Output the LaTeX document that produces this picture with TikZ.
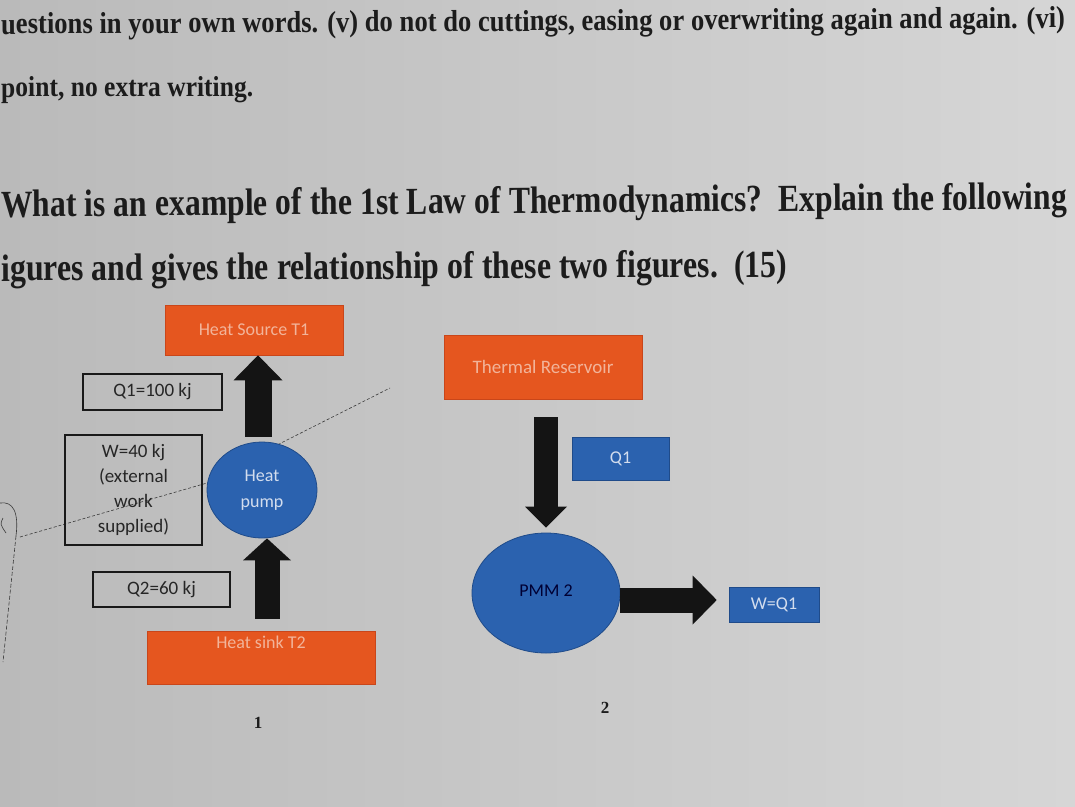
\documentclass[tikz,border=0pt]{standalone}
\usepackage{graphicx}
\usepackage{fontspec}
\setmainfont{Liberation Serif}
\newfontfamily\carl{Carlito}
\usetikzlibrary{arrows.meta,shapes.geometric,calc}
\definecolor{bgL}{HTML}{BABABA}
\definecolor{bgR}{HTML}{D6D6D6}
\definecolor{ink}{HTML}{1C1C1C}
\definecolor{orng}{HTML}{E5561F}
\definecolor{orngD}{HTML}{C9461A}
\definecolor{orngT}{HTML}{F2B49A}
\definecolor{blu}{HTML}{2B62AF}
\definecolor{bluD}{HTML}{1F4B8A}
\definecolor{bluT}{HTML}{D3DDEE}
\definecolor{arrowc}{HTML}{141414}
\definecolor{stray}{HTML}{3A3A3A}
\begin{document}
\begin{tikzpicture}[x=1pt,y=-1pt,
  qtext/.style={inner sep=0pt,anchor=base west,text=ink},
  orangebox/.style={rectangle,fill=orng,draw=orngD,line width=0.6pt,text=orngT,font=\carl\fontsize{18}{20}\selectfont,inner sep=0pt},
  framebox/.style={rectangle,draw=black!90,line width=2pt,text=black!85,align=center,inner sep=0pt,font=\carl\fontsize{19}{25}\selectfont},
  bluebox/.style={rectangle,fill=blu,draw=bluD,line width=0.6pt,text=bluT,inner sep=0pt,font=\carl\fontsize{18}{20}\selectfont},
  bluecirc/.style={ellipse,fill=blu,draw=bluD,line width=0.8pt,text=bluT,inner sep=0pt,align=center,font=\carl\fontsize{18}{26}\selectfont},
  blk/.style={draw=arrowc,line cap=butt},
  straystyle/.style={draw=stray,line width=0.6pt},
  figno/.style={font=\bfseries\fontsize{17}{17}\selectfont,text=ink,inner sep=0pt}]
\useasboundingbox (0,0) rectangle (1075,806);
\clip (0,0) rectangle (1075,806);
\shade[left color=bgL,right color=bgR] (0,0) rectangle (1075,806);

% question text
\node[qtext,rotate=0.33] (t1) at (1,34) {\resizebox{1064pt}{21pt}{\bfseries uestions in your own words. (v) do not do cuttings, easing or overwriting again and again. (vi)}};
\node[qtext,rotate=0.2] (t2) at (1,97) {\resizebox{252pt}{20pt}{\bfseries point, no extra writing.}};
\node[qtext,rotate=0.42] (t3) at (1,217) {\resizebox{1066pt}{27pt}{\bfseries What is an example of the 1st Law of Thermodynamics?\ \ Explain the following}};
\node[qtext,rotate=0.3] (t4) at (1,281) {\resizebox{786pt}{27pt}{\bfseries igures and gives the relationship of these two figures.\ \ (15)}};

% stray selection marks
\coordinate (s0) at (20,537);
\coordinate (s1) at (207,483);
\coordinate (s2) at (283,442);
\coordinate (s3) at (390,388);
\draw[straystyle,dash pattern=on 3pt off 2pt] (s0) -- (s1) -- (s2) -- (s3);
\coordinate (c0) at (0,503);
\coordinate (c1) at (16,536);
\coordinate (c2) at (3,662);
\draw[straystyle] (c0) .. controls (13,501) and (19,512) .. (c1);
\draw[straystyle,dash pattern=on 4pt off 2pt] (c1) -- (c2);
\coordinate (d0) at (3,518);
\coordinate (d1) at (6,533);
\draw[straystyle] (d0) .. controls (0,524) .. (d1);

% figure 1
\node[orangebox,minimum width=178pt,minimum height=50pt] (hs) at (254,330) {Heat Source T1};
\node[framebox,minimum width=139pt,minimum height=36pt] (q1) at (152.5,392) {Q1=100 kj};
\node[framebox,minimum width=137pt,minimum height=110pt] (w) at (133.5,490) {W=40 kj\\(external\\work\\supplied)};
\node[bluecirc,minimum width=110pt,minimum height=96pt] (hp) at (262,490) {Heat\\pump};
\node[framebox,minimum width=137pt,minimum height=35pt] (q2) at (161.5,589.5) {Q2=60 kj};
\node[orangebox,minimum width=228pt,minimum height=53pt,
  label={[anchor=north,inner sep=0pt,yshift=-5pt,text=orngT,font=\carl\fontsize{18}{20}\selectfont]north:{Heat sink T2}}] (hk) at (261,657.5) {};
\node[figno] (n1) at (258,723) {1};

\draw[blk,line width=27pt,-{Triangle[length=25pt,width=49pt,line width=0pt]}]
  ($(hp.north)+(-4,-5)$) -- ($(hs.south)+(4,0)$);
\draw[blk,line width=25pt,-{Triangle[length=22pt,width=48pt,line width=0pt]}]
  ($(hk.north)+(6,-12)$) -- ($(hp.south)+(5,0)$);

% figure 2
\node[orangebox,minimum width=198pt,minimum height=64pt,font=\carl\fontsize{19}{20}\selectfont] (tr) at (543,367) {Thermal Reservoir};
\node[bluebox,minimum width=97pt,minimum height=43pt] (qq) at (620.5,458.5) {Q1};
\node[bluecirc,minimum width=148pt,minimum height=120pt,text=black!80!blue] (pmm) at (546,593) {\raisebox{4pt}{PMM 2}};
\node[bluebox,minimum width=90pt,minimum height=35pt] (wq) at (774,604.5) {W=Q1};
\node[figno] (n2) at (605,708) {2};

\draw[blk,line width=24pt,-{Triangle[length=21pt,width=42pt,line width=0pt]}]
  ($(tr.south)+(3,18)$) -- ($(pmm.north)+(0,-5)$);
\draw[blk,line width=25pt,-{Triangle[length=24pt,width=49pt,line width=0pt]}]
  ($(pmm.east)+(0,7)$) -- ($(wq.west)+(-12,-4.5)$);
\end{tikzpicture}
\end{document}
